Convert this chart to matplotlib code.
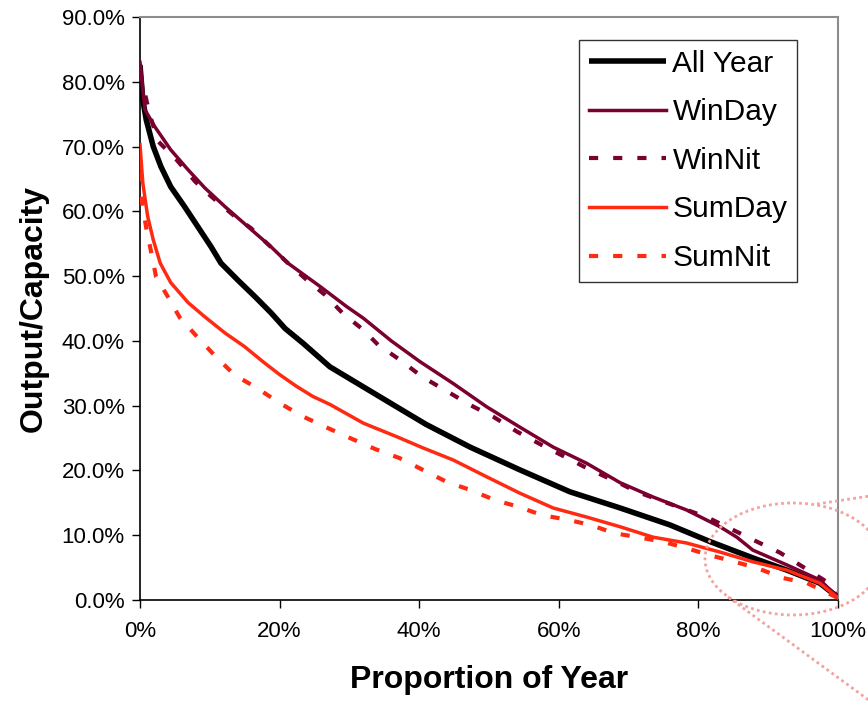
import matplotlib
matplotlib.use("Agg")
import matplotlib.pyplot as plt
from matplotlib.ticker import PercentFormatter
from matplotlib.patches import Ellipse
from matplotlib.lines import Line2D

plt.rcParams['font.family'] = ['Liberation Sans', 'DejaVu Sans']

# Duration curves: proportion of year (%) vs output/capacity (%)
all_year_x = [0, 0.4, 0.9, 1.9, 3.0, 4.4, 6.4, 8.3, 10.2, 11.6, 14.0, 16.5, 18.8, 20.8, 23.4, 27.2,
              32, 36.8, 41.0, 47.3, 54.4, 61.6, 68.8, 75.9, 81.7, 87.8, 92.7, 97.4, 100]
all_year_y = [82.6, 77.2, 74.1, 70.0, 66.9, 63.8, 60.7, 57.6, 54.5, 52.0, 49.4, 46.8, 44.3, 41.9, 39.6, 36.0,
              32.9, 29.8, 27.1, 23.6, 20.1, 16.7, 14.2, 11.6, 9.0, 6.5, 4.6, 2.6, 0.4]

winday_x = [0, 0.7, 2.1, 4.4, 6.9, 9.3, 12.2, 15.5, 18.8, 21.2, 25.8, 29.6, 32, 36.0, 40.1, 44.9,
            49.7, 54.4, 59.2, 64, 68.8, 73.5, 78.3, 83.1, 85.5, 87.8, 92.7, 97.4, 100]
winday_y = [83.0, 75.7, 73.1, 69.5, 66.4, 63.6, 60.7, 57.6, 54.5, 52.0, 48.4, 45.3, 43.5, 40.0, 36.8, 33.4,
            29.8, 26.7, 23.6, 21.1, 18.1, 15.9, 13.9, 11.3, 9.7, 7.7, 5.4, 3.1, 0.4]

winnit_x = [0, 1.4, 2.6, 5.2, 7.9, 10.2, 13.6, 15.9, 21, 23.9, 26.5, 29.1, 32, 34.1, 37.2, 40.5,
            43.7, 47.3, 50.6, 54, 57.6, 64.5, 67.8, 71.2, 76.0, 81.2, 85, 88.4, 91.7, 95, 98.4, 100]
winnit_y = [81.5, 74.9, 70.8, 68.0, 64.6, 62.3, 59.2, 57.4, 52.2, 49.4, 47.1, 44.2, 41.7, 39.4, 37.1, 34.4,
            32.4, 30.1, 28.3, 26.0, 23.9, 20.1, 18.5, 16.7, 14.8, 12.8, 10.8, 9.0, 7.3, 5.1, 2.8, 0.4]

sumday_x = [0, 0.4, 1.1, 1.9, 2.9, 4.4, 6.9, 9.3, 12.2, 15.0, 17.6, 20, 22.4, 24.8, 27.2, 32, 36.8, 40.5,
            44.9, 49.7, 54.4, 59.2, 64, 68.8, 73.5, 78.3, 83.1, 87.8, 92.7, 97.4, 100]
sumday_y = [70.3, 64.4, 59.2, 55.6, 52.0, 49.0, 45.9, 43.7, 41.2, 39.1, 36.8, 34.8, 33.0, 31.4, 30.2, 27.3, 25.2, 23.5,
            21.6, 19.0, 16.5, 14.2, 12.8, 11.3, 9.7, 8.8, 7.4, 5.9, 4.6, 2.6, 0.3]

sumnit_x = [0, 0.3, 0.9, 1.6, 2.3, 4, 5.7, 8.3, 11, 13.6, 16.8, 20, 23.4, 26.8, 30.1, 33.7, 37.2, 40.5,
            44, 47.3, 50.9, 54.2, 57.6, 61.2, 64.5, 68, 71.3, 74.9, 78.3, 81.7, 85.2, 88.5, 92.1, 95.6, 100]
sumnit_y = [66.0, 61.3, 57.4, 53.7, 49.9, 46.8, 43.6, 40.5, 37.4, 34.7, 32.7, 30.4, 28.3, 26.6, 25.0, 23.3, 21.9, 20.1,
            18.2, 17.0, 15.4, 14.4, 13.1, 12.4, 11.6, 10.3, 9.7, 9.0, 8.0, 6.9, 5.9, 4.9, 3.4, 2.6, 0.3]

series_labels = ["All Year", "WinDay", "WinNit", "SumDay", "SumNit"]
x_ticks = [0, 20, 40, 60, 80, 100]
y_ticks = [0, 10, 20, 30, 40, 50, 60, 70, 80, 90]

maroon = '#7A0030'
red = '#FF2A12'

fig = plt.figure(figsize=(8.68, 7.02), dpi=100)
ax = fig.add_axes([140 / 868, 1 - 600 / 702, 698 / 868, 583 / 702])

ax.plot(all_year_x, all_year_y, color='black', lw=4.0, solid_capstyle='butt', label=series_labels[0], zorder=3)
ax.plot(winday_x, winday_y, color=maroon, lw=2.5, label=series_labels[1], zorder=4)
ax.plot(winnit_x, winnit_y, color=maroon, lw=3.0, dashes=(2.2, 3.6), label=series_labels[2], zorder=4)
ax.plot(sumday_x, sumday_y, color=red, lw=2.5, label=series_labels[3], zorder=4)
ax.plot(sumnit_x, sumnit_y, color=red, lw=3.0, dashes=(2.2, 3.6), label=series_labels[4], zorder=4)

ax.set_xlim(0, 100)
ax.set_ylim(0, 90)
ax.set_xticks(x_ticks)
ax.set_yticks(y_ticks)
ax.xaxis.set_major_formatter(PercentFormatter(100, decimals=0))
ax.yaxis.set_major_formatter(PercentFormatter(100, decimals=1))
ax.tick_params(axis='both', direction='out', length=6, width=1, labelsize=16, color='black')
ax.tick_params(axis='x', pad=9)
ax.tick_params(axis='y', pad=5)

for side in ('left', 'bottom'):
    ax.spines[side].set_color('black')
    ax.spines[side].set_linewidth(1.2)
for side in ('top', 'right'):
    ax.spines[side].set_color('#8c8c8c')
    ax.spines[side].set_linewidth(1.5)

ax.set_xlabel("Proportion of Year", fontsize=23, fontweight='bold', labelpad=17)
ax.set_ylabel("Output/Capacity", fontsize=23, fontweight='bold', labelpad=9)

leg = ax.legend(loc='upper right', bbox_to_anchor=(0.9413, 0.9605), borderaxespad=0,
                fontsize=21.5, frameon=True, fancybox=False, shadow=False,
                handlelength=2.58, handletextpad=0.23, labelspacing=0.69,
                borderpad=0.32)
leg.get_frame().set_edgecolor('black')
leg.get_frame().set_linewidth(1.0)

# Dotted callout balloon around the tail of the curves
over = fig.add_axes([0, 0, 1, 1], facecolor='none')
over.set_xlim(0, 868)
over.set_ylim(702, 0)
over.axis('off')
pink = '#F5A29E'
over.add_patch(Ellipse((793, 559), 176, 112, fill=False, edgecolor=pink, lw=2.0,
                       linestyle=(0, (1, 1.2)), clip_on=False))
over.add_line(Line2D([728, 885], [597, 712], color=pink, lw=2.0, linestyle=(0, (1, 1.2))))
over.add_line(Line2D([817, 870], [504, 496], color=pink, lw=2.0, linestyle=(0, (1, 1.2))))

fig.savefig("out.png", dpi=100)
